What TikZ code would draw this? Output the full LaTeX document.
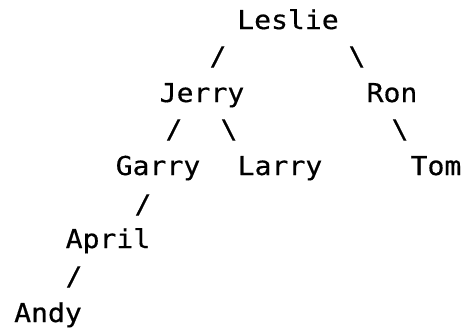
\documentclass[tikz,border=0pt]{standalone}
\usepackage{fontspec}
\newfontfamily\treemono[FakeStretch=1.08,FakeBold=0.5]{DejaVu Sans Mono}
\begin{document}
\begin{tikzpicture}[x=1pt,y=-1pt,
  person/.style={font=\treemono\fontsize{26}{30}\selectfont, inner sep=0pt, anchor=base, text=black},
  link/.style={font=\treemono\fontsize{26}{30}\selectfont, inner sep=0pt, anchor=center, text=black}]
\useasboundingbox[fill=white] (0,0) rectangle (463,330);
% people
\node[person] (leslie) at (288,29) {Leslie};
\node[person] (jerry)  at (202,102) {Jerry};
\node[person] (ron)    at (392,102) {Ron};
\node[person] (garry)  at (158,175) {Garry};
\node[person] (larry)  at (280,175) {Larry};
\node[person] (tom)    at (436,175) {Tom};
\node[person] (april)  at (108,248) {April};
\node[person] (andy)   at (48,322) {Andy};
% ascii links
\node[link] (lj) at (218,57) {/};
\node[link] (lr) at (357,57) {\textbackslash};
\node[link] (jg) at (174,130) {/};
\node[link] (jl) at (229,130) {\textbackslash};
\node[link] (rt) at (400,130) {\textbackslash};
\node[link] (ga) at (143,205) {/};
\node[link] (aa) at (74,277) {/};
\end{tikzpicture}
\end{document}
